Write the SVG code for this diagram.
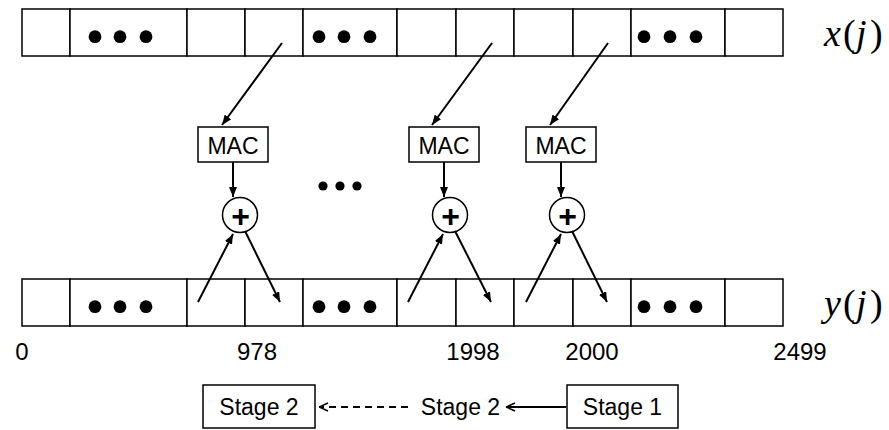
<svg xmlns="http://www.w3.org/2000/svg" width="889" height="430" viewBox="0 0 889 430">
<defs>
<style>
.cell{fill:#fff;stroke:#000;stroke-width:1.5}
.box{fill:#fff;stroke:#000;stroke-width:1.5}
.ln{stroke:#000;stroke-width:2;fill:none}
.dot{fill:#000}
.sans{font-family:"Liberation Sans",Arial,sans-serif;fill:#000}
.math{font-family:"Liberation Serif","Times New Roman",serif;fill:#000;font-size:38px}
.it{font-style:italic}
</style>
<marker id="ah" viewBox="0 0 10 8" refX="10" refY="4" markerWidth="10" markerHeight="8" markerUnits="userSpaceOnUse" orient="auto">
<path d="M0,0 L10,4 L0,8 Z" fill="#000"/>
</marker>
<marker id="open" viewBox="0 0 10 10" refX="10" refY="5" markerWidth="10" markerHeight="10" markerUnits="userSpaceOnUse" orient="auto">
<path d="M1,1 L10,5 L1,9" fill="none" stroke="#000" stroke-width="1.4"/>
</marker>
</defs>
<rect width="889" height="430" fill="#fff"/>

<g id="x-array">
<rect class="cell" x="22" y="9" width="48" height="47"/>
<rect class="cell" x="70" y="9" width="117" height="47"/>
<rect class="cell" x="187" y="9" width="58" height="47"/>
<rect class="cell" x="245" y="9" width="58" height="47"/>
<rect class="cell" x="303" y="9" width="94" height="47"/>
<rect class="cell" x="397" y="9" width="59" height="47"/>
<rect class="cell" x="456" y="9" width="58" height="47"/>
<rect class="cell" x="514" y="9" width="59" height="47"/>
<rect class="cell" x="573" y="9" width="58" height="47"/>
<rect class="cell" x="631" y="9" width="94" height="47"/>
<rect class="cell" x="725" y="9" width="58" height="47"/>
<circle class="dot" cx="95" cy="36.7" r="6.4"/><circle class="dot" cx="120" cy="36.7" r="6.4"/><circle class="dot" cx="146" cy="36.7" r="6.4"/>
<circle class="dot" cx="319" cy="36.7" r="6.4"/><circle class="dot" cx="344" cy="36.7" r="6.4"/><circle class="dot" cx="370" cy="36.7" r="6.4"/>
<circle class="dot" cx="644" cy="36.7" r="6.4"/><circle class="dot" cx="670" cy="36.7" r="6.4"/><circle class="dot" cx="696" cy="36.7" r="6.4"/>
<text class="math" y="45.5"><tspan class="it" x="824">x</tspan><tspan x="843">(</tspan><tspan class="it" x="856">j</tspan><tspan x="870">)</tspan></text>
</g>

<g id="y-array">
<rect class="cell" x="22" y="279" width="48" height="47"/>
<rect class="cell" x="70" y="279" width="117" height="47"/>
<rect class="cell" x="187" y="279" width="58" height="47"/>
<rect class="cell" x="245" y="279" width="58" height="47"/>
<rect class="cell" x="303" y="279" width="94" height="47"/>
<rect class="cell" x="397" y="279" width="59" height="47"/>
<rect class="cell" x="456" y="279" width="58" height="47"/>
<rect class="cell" x="514" y="279" width="59" height="47"/>
<rect class="cell" x="573" y="279" width="58" height="47"/>
<rect class="cell" x="631" y="279" width="94" height="47"/>
<rect class="cell" x="725" y="279" width="58" height="47"/>
<circle class="dot" cx="95" cy="306.7" r="6.4"/><circle class="dot" cx="120" cy="306.7" r="6.4"/><circle class="dot" cx="146" cy="306.7" r="6.4"/>
<circle class="dot" cx="319" cy="306.7" r="6.4"/><circle class="dot" cx="344" cy="306.7" r="6.4"/><circle class="dot" cx="370" cy="306.7" r="6.4"/>
<circle class="dot" cx="644" cy="306.7" r="6.4"/><circle class="dot" cx="670" cy="306.7" r="6.4"/><circle class="dot" cx="696" cy="306.7" r="6.4"/>
<text class="math" y="315.5"><tspan class="it" x="824">y</tspan><tspan x="843">(</tspan><tspan class="it" x="856">j</tspan><tspan x="870">)</tspan></text>
</g>

<g id="mac1"><rect class="box" x="198" y="127" width="70" height="35"/><text class="sans" x="233" y="153.5" font-size="23" text-anchor="middle">MAC</text></g>
<g id="mac2"><rect class="box" x="409" y="127" width="70" height="35"/><text class="sans" x="444" y="153.5" font-size="23" text-anchor="middle">MAC</text></g>
<g id="mac3"><rect class="box" x="526" y="127" width="70" height="35"/><text class="sans" x="561" y="153.5" font-size="23" text-anchor="middle">MAC</text></g>

<g id="add1"><circle class="box" cx="240" cy="215" r="17.5"/><text class="sans" x="240.5" y="227" font-size="32" font-weight="bold" text-anchor="middle">+</text></g>
<g id="add2"><circle class="box" cx="450" cy="215" r="17.5"/><text class="sans" x="450.5" y="227" font-size="32" font-weight="bold" text-anchor="middle">+</text></g>
<g id="add3"><circle class="box" cx="567" cy="215" r="17.5"/><text class="sans" x="567.5" y="227" font-size="32" font-weight="bold" text-anchor="middle">+</text></g>

<g id="mid-dots">
<circle class="dot" cx="323" cy="186" r="4.6"/><circle class="dot" cx="340" cy="186" r="4.6"/><circle class="dot" cx="357" cy="186" r="4.6"/>
</g>

<g id="connectors">
<line class="ln" x1="282" y1="43" x2="222" y2="125" marker-end="url(#ah)"/>
<line class="ln" x1="492" y1="43" x2="432" y2="125" marker-end="url(#ah)"/>
<line class="ln" x1="608" y1="43" x2="550" y2="125" marker-end="url(#ah)"/>
<line class="ln" x1="233" y1="162" x2="233" y2="197" marker-end="url(#ah)"/>
<line class="ln" x1="444" y1="162" x2="444" y2="197" marker-end="url(#ah)"/>
<line class="ln" x1="561" y1="162" x2="561" y2="197" marker-end="url(#ah)"/>
<line class="ln" x1="198" y1="302" x2="233" y2="234" marker-end="url(#ah)"/>
<line class="ln" x1="408" y1="302" x2="443" y2="234" marker-end="url(#ah)"/>
<line class="ln" x1="526" y1="302" x2="561" y2="234" marker-end="url(#ah)"/>
<line class="ln" x1="245" y1="231" x2="280" y2="302" marker-end="url(#ah)"/>
<line class="ln" x1="455" y1="231" x2="491" y2="302" marker-end="url(#ah)"/>
<line class="ln" x1="572" y1="231" x2="607" y2="302" marker-end="url(#ah)"/>
<line class="ln" x1="408" y1="407" x2="319" y2="407" stroke-width="1.4" stroke-dasharray="7,5" marker-end="url(#open)"/>
<line class="ln" x1="566" y1="407" x2="506" y2="407" stroke-width="1.4" marker-end="url(#open)"/>
</g>

<g id="labels" class="sans" font-size="24" text-anchor="middle">
<text x="22" y="360">0</text>
<text x="257" y="360">978</text>
<text x="473" y="360">1998</text>
<text x="592" y="360">2000</text>
<text x="800" y="360">2499</text>
</g>

<g id="stage2-box"><rect class="box" x="203" y="385" width="112" height="43"/><text class="sans" x="259" y="415" font-size="23" text-anchor="middle">Stage 2</text></g>
<g id="stage2-label"><text class="sans" x="460.5" y="415" font-size="23" text-anchor="middle">Stage 2</text></g>
<g id="stage1-box"><rect class="box" x="567" y="385" width="111" height="43"/><text class="sans" x="622.5" y="415" font-size="23" text-anchor="middle">Stage 1</text></g>
</svg>
